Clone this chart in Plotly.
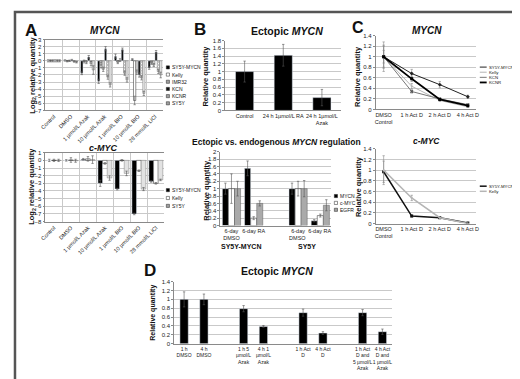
import plotly.graph_objects as go

W, H = 520, 379
FONT = "Liberation Sans, Arial, sans-serif"

# ---------------- Panel A : MYCN (log2 relative quantity) ----------------
a_categories = ["Control", "DMSO", "1 µmol/L Azak", "10 µmol/L Azak",
                "1 µmol/L BIO", "10 µmol/L BIO", "28 mmol/L LiCl"]
a_mycn_series = ["SY5Y-MYCN", "Kelly", "IMR32", "KCN", "KCNR", "SY5Y"]
a_mycn_sy5y_mycn = [0.0, 0.05, -1.75, -2.9, 0.65, 0.2, -1.0]
a_mycn_kelly = [0.0, -0.05, -0.1, -0.6, -0.2, -5.6, -0.3]
a_mycn_imr32 = [0.0, 0.0, -0.2, -1.2, 0.1, -1.6, -0.6]
a_mycn_kcn = [0.0, 0.1, 0.55, 1.7, 1.6, -2.0, 1.25]
a_mycn_kcnr = [0.0, -0.1, -0.4, -2.3, -1.75, -2.4, -1.5]
a_mycn_sy5y = [0.0, -0.2, -1.3, -3.4, -2.7, -4.6, -2.0]
a_mycn_err_sy5y_mycn = [0.15, 0.1, 0.2, 0.3, 0.3, 0.1, 0.2]
a_mycn_err_kelly = [0.15, 0.1, 0.2, 0.4, 0.2, 0.6, 0.2]
a_mycn_err_imr32 = [0.15, 0.1, 0.2, 0.3, 0.2, 0.3, 0.2]
a_mycn_err_kcn = [0.15, 0.1, 0.2, 0.3, 0.2, 0.3, 0.2]
a_mycn_err_kcnr = [0.15, 0.1, 0.3, 0.3, 0.3, 0.3, 0.3]
a_mycn_err_sy5y = [0.15, 0.1, 0.6, 0.3, 0.3, 0.3, 0.4]

# ---------------- Panel A : c-MYC ----------------
a_cmyc_series = ["SY5Y-MYCN", "Kelly", "SY5Y"]
a_cmyc_sy5y_mycn = [0.0, 0.0, 0.15, -3.0, -3.75, -7.0, -2.75]
a_cmyc_kelly = [0.0, 0.05, 0.2, -0.4, 0.0, -1.35, -3.0]
a_cmyc_sy5y = [0.0, -0.05, 0.1, -2.3, -1.7, -3.75, -2.55]
a_cmyc_err_sy5y_mycn = [0.15, 0.1, 0.1, 0.4, 0.1, 0.1, 0.1]
a_cmyc_err_kelly = [0.15, 0.3, 0.3, 0.1, 0.1, 0.1, 0.1]
a_cmyc_err_sy5y = [0.15, 0.2, 0.5, 0.3, 0.3, 0.2, 0.1]

# ---------------- Panel B : Ectopic MYCN ----------------
b_categories = ["Control", "24 h 1µmol/L RA", "24 h 1µmol/L<br>Azak"]
b_values = [1.0, 1.42, 0.33]
b_errors = [0.27, 0.28, 0.21]

# ---------------- Panel B : Ectopic vs endogenous ----------------
b2_categories = ["6-day<br>DMSO", "6-day RA", " ", "6-day<br>DMSO ", "6-day RA "]
b2_series = ["MYCN", "c-MYC", "EGFR"]
b2_mycn = [1.0, 1.55, None, 1.0, 0.13]
b2_cmyc = [1.0, 0.2, None, 1.0, 0.27]
b2_egfr = [1.0, 0.6, None, 1.0, 0.55]
b2_mycn_err = [0.15, 0.2, None, 0.15, 0.03]
b2_cmyc_err = [0.4, 0.04, None, 0.2, 0.04]
b2_egfr_err = [0.2, 0.07, None, 0.22, 0.15]
b2_groups = ["SY5Y-MYCN", "SY5Y"]

# ---------------- Panel C : Act D time courses ----------------
c_categories = ["DMSO<br>Control", "1 h Act D", "2 h Act D", "4 h Act D"]
c_mycn_series = ["SY5Y-MYCN", "Kelly", "KCN", "KCNR"]
c_mycn_sy5y_mycn = [1.0, 0.68, 0.47, 0.24]
c_mycn_kelly = [1.0, 0.44, 0.17, 0.05]
c_mycn_kcn = [1.0, 0.34, 0.2, 0.09]
c_mycn_kcnr = [1.0, 0.58, 0.19, 0.07]
c_mycn_err_sy5y_mycn = [0.2, 0.08, 0.06, 0.03]
c_mycn_err_kelly = [0.28, 0.05, 0.02, 0.01]
c_mycn_err_kcn = [0.12, 0.03, 0.02, 0.01]
c_mycn_err_kcnr = [0.22, 0.05, 0.02, 0.02]

c_cmyc_series = ["SY5Y-MYCN", "Kelly"]
c_cmyc_sy5y_mycn = [0.97, 0.14, 0.11, 0.01]
c_cmyc_kelly = [1.0, 0.48, 0.11, 0.0]
c_cmyc_err_sy5y_mycn = [0.2, 0.02, 0.01, 0.0]
c_cmyc_err_kelly = [0.27, 0.05, 0.01, 0.0]

# ---------------- Panel D : Ectopic MYCN ----------------
d_categories = ["1 h<br>DMSO", "4 h<br>DMSO", " ",
                "1 h 5<br>µmol/L<br>Azak", "4 h 1<br>µmol/L<br>Azak", "  ",
                "1 h Act<br>D", "4 h Act<br>D", "   ",
                "1 h Act<br>D and<br>5 µmol/L<br>Azak", "4 h Act<br>D and<br>1 µmol/L<br>Azak"]
d_values = [1.0, 1.0, None, 0.79, 0.39, None, 0.7, 0.24, None, 0.7, 0.27]
d_errors = [0.17, 0.12, None, 0.07, 0.02, None, 0.08, 0.03, None, 0.07, 0.06]


def px(x):
    return x / W


def py(y):
    return 1 - y / H


def dom_x(x0, x1):
    return [x0 / W, x1 / W]


def dom_y(top, bottom):
    return [1 - bottom / H, 1 - top / H]


GRID = "#c9c9c9"
AXL = "#8a8a8a"
ERR = dict(type="data", color="#555555", thickness=0.6, width=1.2, visible=True)

bar_styles = {
    "SY5Y-MYCN": dict(color="#000000"),
    "Kelly": dict(color="#ffffff", line=dict(color="#222222", width=0.5)),
    "IMR32": dict(color="#ffffff", line=dict(color="#444444", width=0.4),
                  pattern=dict(shape="+", fgcolor="#555555", size=2, solidity=0.5)),
    "KCN": dict(color="#111111"),
    "KCNR": dict(color="#ffffff", line=dict(color="#444444", width=0.4),
                 pattern=dict(shape="x", fgcolor="#444444", size=2, solidity=0.5)),
    "SY5Y": dict(color="#ffffff", line=dict(color="#666666", width=0.4),
                 pattern=dict(shape=".", fgcolor="#777777", size=2, solidity=0.5)),
}
b2_styles = {
    "MYCN": dict(color="#000000"),
    "c-MYC": dict(color="#ffffff", line=dict(color="#222222", width=0.5)),
    "EGFR": dict(color="#9a9a9a", line=dict(color="#444444", width=0.4),
                 pattern=dict(shape=".", fgcolor="#555555", bgcolor="#bdbdbd", size=2, solidity=0.4)),
}
line_styles = {
    "SY5Y-MYCN": dict(line=dict(color="#222222", width=1.0), marker=dict(symbol="diamond", size=3, color="#222222")),
    "Kelly": dict(line=dict(color="#b5b5b5", width=1.0), marker=dict(symbol="circle", size=2, color="#b5b5b5")),
    "KCN": dict(line=dict(color="#777777", width=1.0), marker=dict(symbol="x", size=3, color="#555555")),
    "KCNR": dict(line=dict(color="#000000", width=1.8), marker=dict(symbol="square", size=3, color="#000000")),
}
cmyc_line_styles = {
    "SY5Y-MYCN": dict(line=dict(color="#111111", width=1.5), marker=dict(symbol="square", size=3, color="#111111")),
    "Kelly": dict(line=dict(color="#b5b5b5", width=1.5), marker=dict(symbol="circle", size=2, color="#b5b5b5")),
}

fig = go.Figure()

# ---- A top
a_top_vals = [a_mycn_sy5y_mycn, a_mycn_kelly, a_mycn_imr32, a_mycn_kcn, a_mycn_kcnr, a_mycn_sy5y]
a_top_errs = [a_mycn_err_sy5y_mycn, a_mycn_err_kelly, a_mycn_err_imr32, a_mycn_err_kcn,
              a_mycn_err_kcnr, a_mycn_err_sy5y]
for name, vals, errs in zip(a_mycn_series, a_top_vals, a_top_errs):
    fig.add_trace(go.Bar(x=a_categories, y=vals, name=name, marker=bar_styles[name],
                         error_y=dict(array=errs, **ERR), xaxis="x", yaxis="y", showlegend=False))

# ---- A bottom
a_bot_vals = [a_cmyc_sy5y_mycn, a_cmyc_kelly, a_cmyc_sy5y]
a_bot_errs = [a_cmyc_err_sy5y_mycn, a_cmyc_err_kelly, a_cmyc_err_sy5y]
for name, vals, errs in zip(a_cmyc_series, a_bot_vals, a_bot_errs):
    fig.add_trace(go.Bar(x=a_categories, y=vals, name=name, marker=bar_styles[name],
                         error_y=dict(array=errs, **ERR), xaxis="x2", yaxis="y2", showlegend=False))

# ---- B top
fig.add_trace(go.Bar(x=b_categories, y=b_values, width=0.47, marker=dict(color="#000000"),
                     error_y=dict(array=b_errors, **ERR), xaxis="x3", yaxis="y3", showlegend=False))

# ---- B bottom
for name, vals, errs in zip(b2_series, [b2_mycn, b2_cmyc, b2_egfr], [b2_mycn_err, b2_cmyc_err, b2_egfr_err]):
    fig.add_trace(go.Bar(x=b2_categories, y=vals, name=name, marker=b2_styles[name],
                         error_y=dict(array=errs, **ERR), xaxis="x4", yaxis="y4", showlegend=False))

# ---- C top
for name, vals, errs in zip(c_mycn_series,
                            [c_mycn_sy5y_mycn, c_mycn_kelly, c_mycn_kcn, c_mycn_kcnr],
                            [c_mycn_err_sy5y_mycn, c_mycn_err_kelly, c_mycn_err_kcn, c_mycn_err_kcnr]):
    fig.add_trace(go.Scatter(x=c_categories, y=vals, name=name, mode="lines+markers",
                             error_y=dict(array=errs, color="#888888", thickness=0.6, width=1.2),
                             xaxis="x5", yaxis="y5", showlegend=False, **line_styles[name]))

# ---- C bottom
for name, vals, errs in zip(c_cmyc_series, [c_cmyc_sy5y_mycn, c_cmyc_kelly],
                            [c_cmyc_err_sy5y_mycn, c_cmyc_err_kelly]):
    fig.add_trace(go.Scatter(x=c_categories, y=vals, name=name, mode="lines+markers",
                             error_y=dict(array=errs, color="#888888", thickness=0.6, width=1.2),
                             xaxis="x6", yaxis="y6", showlegend=False, **cmyc_line_styles[name]))

# ---- D
fig.add_trace(go.Bar(x=d_categories, y=d_values, width=0.42, marker=dict(color="#000000"),
                     error_y=dict(array=d_errors, **ERR), xaxis="x7", yaxis="y7", showlegend=False))


def yax(domain, rng, dtick, anchor, grid=True):
    return dict(domain=domain, range=rng, dtick=dtick, anchor=anchor, showgrid=grid, gridcolor=GRID,
                gridwidth=0.8, showline=True, linecolor=AXL, linewidth=0.8, ticks="outside", ticklen=2,
                tickcolor=AXL, tickfont=dict(size=6, color="#222"), zeroline=False, fixedrange=True)


def xax(domain, anchor, angle=0, size=5.5, **kw):
    d = dict(domain=domain, anchor=anchor, type="category", showline=True, linecolor=AXL, linewidth=0.8,
             ticks="", tickangle=angle, tickfont=dict(size=size, color="#222"), showgrid=False,
             zeroline=False, fixedrange=True)
    d.update(kw)
    return d


layout = dict(
    width=W, height=H, margin=dict(l=0, r=0, t=0, b=0),
    paper_bgcolor="white", plot_bgcolor="white",
    font=dict(family=FONT, color="#111"),
    barmode="group", bargap=0.18, bargroupgap=0.0,
    xaxis=xax(dom_x(32, 152), "y", angle=-45, size=5.5, showgrid=True, tickson="boundaries",
              gridcolor=GRID, mirror=True),
    yaxis=yax(dom_y(29, 101), [-7, 3], 1, "x"),
    xaxis2=xax(dom_x(32, 153), "y2", angle=-45, size=5.5, showgrid=True, tickson="boundaries",
               gridcolor=GRID, mirror=True),
    yaxis2=yax(dom_y(144, 214), [-8, 1], 1, "x2"),
    xaxis3=xax(dom_x(215, 333), "y3", size=5.5),
    yaxis3=yax(dom_y(30, 101), [0, 1.8], 0.2, "x3"),
    xaxis4=xax(dom_x(210, 323), "y4", size=5.5, categoryorder="array", categoryarray=b2_categories),
    yaxis4=yax(dom_y(143, 218), [0, 2], 0.2, "x4"),
    xaxis5=xax(dom_x(368, 470), "y5", size=5.5),
    yaxis5=yax(dom_y(25, 100), [0, 1.4], 0.2, "x5"),
    xaxis6=xax(dom_x(368, 470), "y6", size=5.5),
    yaxis6=yax(dom_y(140, 216), [0, 1.4], 0.2, "x6"),
    xaxis7=xax(dom_x(163, 385), "y7", size=5, categoryorder="array", categoryarray=d_categories),
    yaxis7=yax(dom_y(275, 338), [0, 1.4], 0.2, "x7"),
)
fig.update_layout(**layout)

ann = []


def text(x, y, s, size, bold=False, angle=0, xanchor="center", color="#111"):
    ann.append(dict(xref="paper", yref="paper", x=px(x), y=py(y), text=(f"<b>{s}</b>" if bold else s),
                    showarrow=False, font=dict(size=size, family=FONT, color=color), textangle=angle,
                    xanchor=xanchor, yanchor="middle", borderpad=0))


# panel letters
text(17, 20, "A", 17, True)
text(189, 19, "B", 17, True)
text(350, 17, "C", 16, True)
text(138, 264, "D", 17, True)

# titles
text(93, 20, "<i>MYCN</i>", 10, True)
text(91, 139, "<i>c-MYC</i>", 9, True)
text(278, 20, "Ectopic <i>MYCN</i>", 10.5, True)
text(267, 133, "Ectopic vs. endogenous <i>MYCN</i> regulation", 8.5, True)
text(420, 20, "<i>MYCN</i>", 10, True)
text(420, 132, "<i>c-MYC</i>", 8.5, True)
text(268, 264, "Ectopic <i>MYCN</i>", 10.5, True)

# axis titles
text(19, 65, "Log<sub>2</sub> relative quantity", 7.5, True, -90)
text(19, 178, "Log<sub>2</sub> relative quantity", 7.5, True, -90)
text(195, 66, "Relative quantity", 7.5, True, -90)
text(195, 182, "Relative quantity", 7.5, True, -90)
text(350, 66, "Relative quantity", 7.5, True, -90)
text(350, 178, "Relative quantity", 7.5, True, -90)
text(142, 307, "Relative quantity", 7, True, -90)

# group labels of panel B bottom
text(231, 239, b2_groups[0], 7, True)
text(298, 239, b2_groups[1], 7, True)

shapes = []


def swatch_legend(items, styles, x, y0, dy, size=5):
    for i, name in enumerate(items):
        y = y0 + i * dy
        st = styles[name]
        fill = st.get("color", "#000")
        if "pattern" in st:
            fill = "#a0a0a0"
        shapes.append(dict(type="rect", xref="paper", yref="paper", x0=px(x), x1=px(x + 3.2),
                           y0=py(y + 1.6), y1=py(y - 1.6), fillcolor=fill,
                           line=dict(color="#222", width=0.5)))
        text(x + 4.5, y, name, size, False, xanchor="left")


def line_legend(items, styles, x, y0, dy, size=4.3):
    for i, name in enumerate(items):
        y = y0 + i * dy
        st = styles[name]
        shapes.append(dict(type="line", xref="paper", yref="paper", x0=px(x), x1=px(x + 7),
                           y0=py(y), y1=py(y), line=dict(color=st["line"]["color"],
                                                         width=st["line"]["width"])))
        text(x + 8.5, y, name, size, False, xanchor="left")


swatch_legend(a_mycn_series, bar_styles, 155, 57.3, 7.3)
swatch_legend(a_cmyc_series, bar_styles, 155, 182, 8)
swatch_legend(b2_series, b2_styles, 326, 188, 7)
line_legend(c_mycn_series, line_styles, 474, 57, 5.2)
line_legend(c_cmyc_series, cmyc_line_styles, 474, 178, 5.2)

# outer frame
shapes.append(dict(type="rect", xref="paper", yref="paper", x0=px(1), x1=px(W - 1), y0=py(H - 1), y1=py(1),
                   line=dict(color="#555555", width=2.5), fillcolor="rgba(0,0,0,0)"))

fig.update_layout(annotations=ann, shapes=shapes)
fig.write_html("out.html")
